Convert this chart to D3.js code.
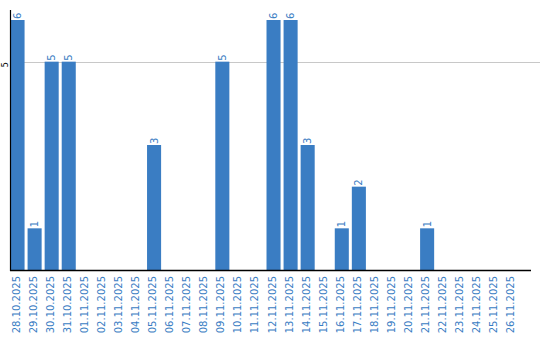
<!DOCTYPE html>
<html><head><meta charset="utf-8">
<script src="https://cdn.jsdelivr.net/npm/d3@7"></script>
<style>body{margin:0;background:#fff}svg{display:block}</style>
</head><body><svg id="c" width="540" height="340"></svg>
<script>
const dates = ["28.10.2025","29.10.2025","30.10.2025","31.10.2025","01.11.2025","02.11.2025","03.11.2025","04.11.2025","05.11.2025","06.11.2025","07.11.2025","08.11.2025","09.11.2025","10.11.2025","11.11.2025","12.11.2025","13.11.2025","14.11.2025","15.11.2025","16.11.2025","17.11.2025","18.11.2025","19.11.2025","20.11.2025","21.11.2025","22.11.2025","23.11.2025","24.11.2025","25.11.2025","26.11.2025"];
const values = [6,1,5,5,0,0,0,0,3,0,0,0,5,0,0,6,6,3,0,1,2,0,0,0,1,0,0,0,0,0];
const yTicks = [5];

const svg = d3.select("#c");
const left = 10, baseY = 270, topY = 20;
const blue = "#3a7dc3";
const font = "DejaVu Sans, Verdana, sans-serif";
const x = d3.scaleBand().domain(dates).range([left, left + 17*dates.length]).paddingInner(3/17).paddingOuter(0.03);
const y = d3.scaleLinear().domain([0, 6]).range([baseY, topY]);

// gridline
svg.selectAll(".grid").data(yTicks).enter().append("line")
  .attr("x1", left).attr("x2", 540).attr("y1", d => Math.round(y(d))+0.5).attr("y2", d => Math.round(y(d))+0.5)
  .attr("stroke", "#c8c8c8").attr("stroke-width", 1);

// bars
svg.selectAll(".bar").data(values).enter().append("rect")
  .attr("x", (d,i) => x(dates[i])).attr("width", x.bandwidth())
  .attr("y", d => y(d)).attr("height", d => baseY - y(d))
  .attr("fill", blue);

// value labels
values.forEach((v,i) => {
  if (v <= 0) return;
  const cx = x(dates[i]) + x.bandwidth()/2;
  svg.append("text")
    .attr("transform", `translate(${cx+3.5},${y(v)-1}) rotate(-90)`)
    .attr("font-family", font).attr("font-size", 10)
    .attr("fill", blue).attr("text-anchor", "start").text(v);
});

// x axis labels
const xAxis = d3.axisBottom(x).tickSize(0).tickPadding(0);
const gx = svg.append("g").attr("transform", `translate(0,${baseY})`).call(xAxis);
gx.select(".domain").remove();
gx.selectAll("text")
  .attr("font-family", font).attr("font-size", 10)
  .attr("fill", blue).attr("text-anchor", "end")
  .attr("transform", "rotate(-90)").attr("dy", "0.3em").attr("x", -6).attr("y", -1);

// axis lines
svg.append("line").attr("x1", left+0.5).attr("x2", left+0.5).attr("y1", 10).attr("y2", baseY+1)
  .attr("stroke", "#000").attr("stroke-width", 1.2);
svg.append("line").attr("x1", left).attr("x2", 531).attr("y1", baseY+0.5).attr("y2", baseY+0.5)
  .attr("stroke", "#000").attr("stroke-width", 1.5);

// y tick label
yTicks.forEach(t => {
  svg.append("text").attr("transform", `translate(7.5,${y(t)+3}) rotate(-90)`)
    .attr("font-family", font).attr("font-size", 8)
    .attr("text-anchor", "middle").attr("fill", "#000").text(t);
});
</script></body></html>
